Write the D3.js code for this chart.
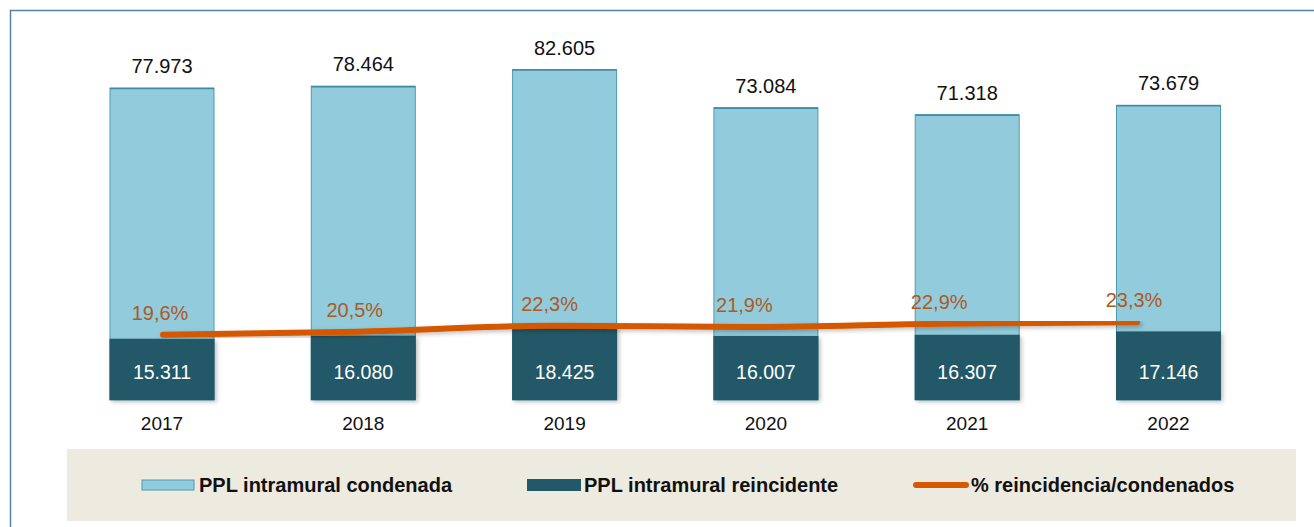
<!DOCTYPE html>
<html><head><meta charset="utf-8">
<script src="https://cdn.jsdelivr.net/npm/d3@7"></script>
<style>body{margin:0;background:#fff;}svg{display:block;font-family:"Liberation Sans",Arial,sans-serif;}</style>
</head><body><svg id="c" width="1314" height="527"></svg>
<script>
const years = ["2017","2018","2019","2020","2021","2022"];
const condenada = [77973,78464,82605,73084,71318,73679];
const reincidente = [15311,16080,18425,16007,16307,17146];
const pct = [19.6,20.5,22.3,21.9,22.9,23.3];
const legendLabels = ["PPL intramural condenada","PPL intramural reincidente","% reincidencia/condenados"];

const fmt = d3.formatLocale({decimal:",",thousands:".",grouping:[3],currency:["",""]});
const fNum = fmt.format(",d");
const fPct = v => fmt.format(".1f")(v) + "%";

const svg = d3.select("#c");
const defs = svg.append("defs");
const sh = defs.append("filter").attr("id","sh").attr("x","-10%").attr("y","-10%").attr("width","130%").attr("height","130%");
sh.append("feDropShadow").attr("dx",2).attr("dy",2).attr("stdDeviation",2).attr("flood-color","#000").attr("flood-opacity",0.25);

// frame
svg.append("path").attr("d","M10.5,527 L10.5,10.5 L1314,10.5").attr("fill","none").attr("stroke","#5B7FA8").attr("stroke-width",1.5);

const x = d3.scalePoint().domain(years).range([162,1168.5]);
const xl = d3.scalePoint().domain(years).range([163,1137]);
const y = d3.scaleLinear().domain([0,100000]).range([400,0]);
const y2 = d3.scaleLinear().domain([0,120]).range([400,0]);
const bw = 104;

// light bars
svg.selectAll(".b1").data(years).join("rect")
  .attr("x",d=>x(d)-bw/2).attr("width",bw)
  .attr("y",(d,i)=>y(condenada[i])).attr("height",(d,i)=>y(0)-y(condenada[i]))
  .attr("fill","#92CBDC").attr("stroke","#4C9BB2").attr("stroke-width",1);
svg.selectAll(".b1t").data(years).join("line")
  .attr("x1",d=>x(d)-bw/2).attr("x2",d=>x(d)+bw/2)
  .attr("y1",(d,i)=>y(condenada[i])+0.5).attr("y2",(d,i)=>y(condenada[i])+0.5)
  .attr("stroke","#3E8CA3").attr("stroke-width",1.5);

// dark bars
svg.selectAll(".b2").data(years).join("rect")
  .attr("x",d=>x(d)-bw/2-0.5).attr("width",bw+1)
  .attr("y",(d,i)=>y(reincidente[i])).attr("height",(d,i)=>y(0)-y(reincidente[i]))
  .attr("fill","#225968").attr("filter","url(#sh)");

// top labels
svg.selectAll(".t1").data(years).join("text")
  .attr("x",d=>x(d)).attr("y",(d,i)=>y(condenada[i])-15)
  .attr("text-anchor","middle").attr("font-size",20).attr("fill","#111")
  .text((d,i)=>fNum(condenada[i]));

// dark labels
svg.selectAll(".t2").data(years).join("text")
  .attr("x",d=>x(d)).attr("y",y(0)-21)
  .attr("text-anchor","middle").attr("font-size",19.5).attr("fill","#fff")
  .text((d,i)=>fNum(reincidente[i]));

// years
svg.selectAll(".yr").data(years).join("text")
  .attr("x",d=>x(d)).attr("y",430)
  .attr("text-anchor","middle").attr("font-size",19).attr("fill","#111")
  .text(d=>d);

// line
const line = d3.line().x((d,i)=>xl(years[i])).y(d=>y2(d)).curve(d3.curveMonotoneX);
svg.append("path").datum(pct).attr("d",line).attr("fill","none")
  .attr("stroke","#D55800").attr("stroke-width",6).attr("stroke-linecap","round")
  .attr("filter","url(#sh)");

svg.selectAll(".pl").data(pct).join("text")
  .attr("x",(d,i)=>xl(years[i])-3).attr("y",d=>y2(d)-15)
  .attr("text-anchor","middle").attr("font-size",20).attr("fill","#AD5A1F")
  .text(d=>fPct(d));

// legend
svg.append("rect").attr("x",67).attr("y",449).attr("width",1229).attr("height",72).attr("fill","#EDEAE0");
const lg = [{x:142,type:"light"},{x:527,type:"dark"},{x:913,type:"line"}];
lg.forEach((l,i)=>{
  if(l.type==="light") svg.append("rect").attr("x",l.x).attr("y",480).attr("width",52).attr("height",10).attr("fill","#92CBDC").attr("stroke","#4C9BB2");
  else if(l.type==="dark") svg.append("rect").attr("x",l.x).attr("y",479).attr("width",54).attr("height",12).attr("fill","#225968");
  else svg.append("line").attr("x1",l.x+3).attr("x2",l.x+53).attr("y1",485).attr("y2",485).attr("stroke","#D55800").attr("stroke-width",6).attr("stroke-linecap","round");
  svg.append("text").attr("x",l.x+(l.type==="line"?58:57)).attr("y",492).attr("font-size",20).attr("font-weight","bold").attr("fill","#111").text(legendLabels[i]);
});
</script></body></html>
